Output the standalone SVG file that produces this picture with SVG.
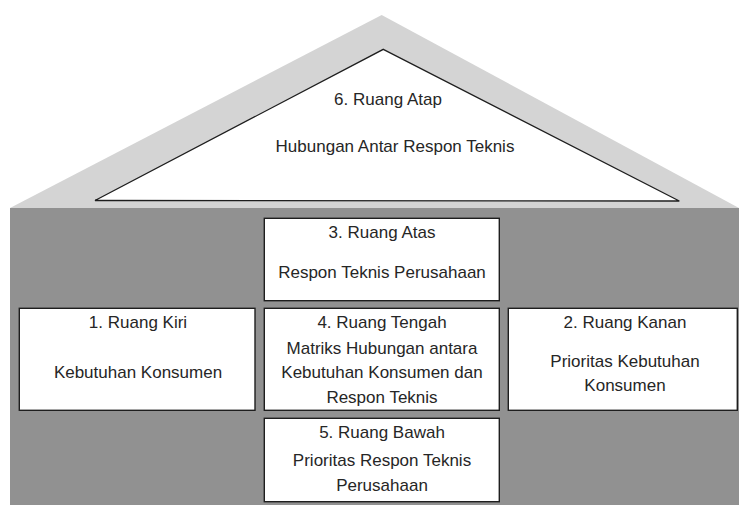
<svg xmlns="http://www.w3.org/2000/svg" width="739" height="505" viewBox="0 0 739 505">
  <style>
    .box { fill: #ffffff; stroke: #1e1e1e; stroke-width: 1.4; }
    .t { font-family: "Liberation Sans", Arial, sans-serif; font-size: 17px; fill: #262626; text-anchor: middle; }
  </style>
  <rect x="0" y="0" width="739" height="505" fill="#ffffff"/>
  <g id="roof">
    <polygon points="381.7,15 739,208 10,208" fill="#d4d4d4"/>
    <polygon points="383.3,49.3 679.3,201 95,200.5" fill="#ffffff" stroke="#1e1e1e" stroke-width="1.3" stroke-linejoin="miter"/>
    <text class="t" x="388" y="105">6. Ruang Atap</text>
    <text class="t" x="395" y="151.5">Hubungan Antar Respon Teknis</text>
  </g>
  <g id="body">
    <rect x="10" y="208" width="729" height="297" fill="#919191"/>
  </g>
  <g id="node3">
    <rect class="box" x="264.3" y="218.3" width="235" height="82.4"/>
    <text class="t" x="382" y="237.5">3. Ruang Atas</text>
    <text class="t" x="382" y="278.3">Respon Teknis Perusahaan</text>
  </g>
  <g id="node1">
    <rect class="box" x="19.3" y="308.3" width="235.7" height="102"/>
    <text class="t" x="138" y="328">1. Ruang Kiri</text>
    <text class="t" x="138" y="378.3">Kebutuhan Konsumen</text>
  </g>
  <g id="node4">
    <rect class="box" x="264.3" y="308.3" width="235" height="102"/>
    <text class="t" x="382" y="327.8">4. Ruang Tengah</text>
    <text class="t" x="382" y="354">Matriks Hubungan antara</text>
    <text class="t" x="382" y="378.3">Kebutuhan Konsumen dan</text>
    <text class="t" x="382" y="402.7">Respon Teknis</text>
  </g>
  <g id="node2">
    <rect class="box" x="508.3" y="308.3" width="229" height="102"/>
    <text class="t" x="625" y="328.3">2. Ruang Kanan</text>
    <text class="t" x="625" y="366.7">Prioritas Kebutuhan</text>
    <text class="t" x="625" y="390.7">Konsumen</text>
  </g>
  <g id="node5">
    <rect class="box" x="264.3" y="418.3" width="235" height="83.4"/>
    <text class="t" x="382" y="438.3">5. Ruang Bawah</text>
    <text class="t" x="382" y="466">Prioritas Respon Teknis</text>
    <text class="t" x="382" y="490.7">Perusahaan</text>
  </g>
  <g id="connectors"></g>
</svg>
